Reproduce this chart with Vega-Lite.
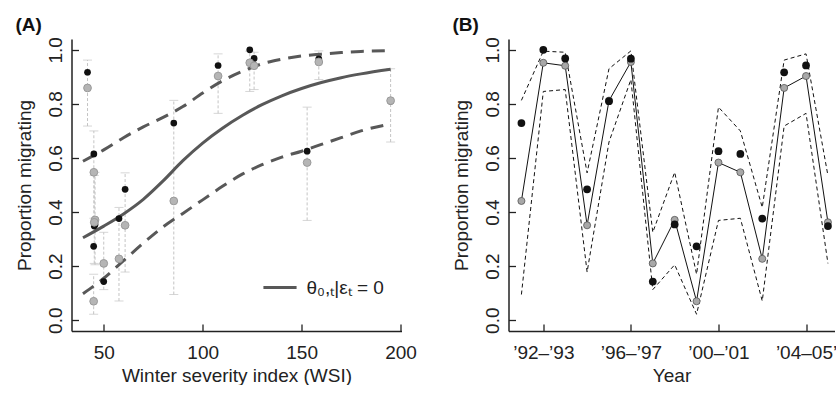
{
  "$schema": "https://vega.github.io/schema/vega-lite/v6.json",
  "padding": {"left": 14.5, "top": 15, "right": 0, "bottom": 0},
  "background": "white",
  "resolve": {"scale": {"color": "independent"}, "legend": {"color": "independent"}},
  "config": {
    "view": {"stroke": null},
    "font": "Liberation Sans",
    "axis": {
      "grid": false,
      "domainColor": "#222222",
      "domainWidth": 1.5,
      "tickColor": "#222222",
      "tickWidth": 1.3,
      "tickSize": -7,
      "labelPadding": 17,
      "labelFont": "Liberation Sans",
      "labelFontSize": 19,
      "labelColor": "#222222",
      "labelFlush": false,
      "labelOverlap": false,
      "titleFont": "Liberation Sans",
      "titleFontSize": 19,
      "titleFontWeight": "normal",
      "titleColor": "#222222"
    },
    "axisY": {"labelAngle": -90, "labelAlign": "center", "labelBaseline": "alphabetic", "titlePadding": 12, "labelPadding": 17},
    "axisX": {"labelBaseline": "top", "titlePadding": 4, "labelPadding": 19},
    "title": {"font": "Liberation Sans", "fontSize": 19, "fontWeight": "bold", "anchor": "start", "frame": "bounds", "color": "#111111", "offset": 2}
  },
  "datasets": {
    "years": [
      {"t": 0, "wsi": 85.4, "obs": 0.729, "est": 0.441, "lo": 0.095, "hi": 0.813},
      {"t": 1, "wsi": 123.8, "obs": 1.0, "est": 0.952, "lo": 0.846, "hi": 0.995},
      {"t": 2, "wsi": 126.0, "obs": 0.968, "est": 0.941, "lo": 0.853, "hi": 0.991},
      {"t": 3, "wsi": 60.8, "obs": 0.484, "est": 0.351, "lo": 0.178, "hi": 0.545},
      {"t": 4, "wsi": 195.0, "obs": 0.81, "est": 0.812, "lo": 0.659, "hi": 0.93},
      {"t": 5, "wsi": 158.7, "obs": 0.967, "est": 0.955, "lo": 0.89, "hi": 0.996},
      {"t": 6, "wsi": 50.0, "obs": 0.143, "est": 0.21, "lo": 0.113, "hi": 0.325},
      {"t": 7, "wsi": 45.6, "obs": 0.354, "est": 0.371, "lo": 0.205, "hi": 0.547},
      {"t": 8, "wsi": 44.9, "obs": 0.273, "est": 0.07, "lo": 0.022, "hi": 0.17},
      {"t": 9, "wsi": 152.8, "obs": 0.625, "est": 0.583, "lo": 0.369, "hi": 0.788},
      {"t": 10, "wsi": 45.0, "obs": 0.615, "est": 0.547, "lo": 0.377, "hi": 0.7},
      {"t": 11, "wsi": 57.7, "obs": 0.376, "est": 0.227, "lo": 0.071, "hi": 0.417},
      {"t": 12, "wsi": 41.8, "obs": 0.917, "est": 0.859, "lo": 0.718, "hi": 0.962},
      {"t": 13, "wsi": 107.8, "obs": 0.942, "est": 0.903, "lo": 0.765, "hi": 0.985},
      {"t": 14, "wsi": 45.2, "obs": 0.348, "est": 0.362, "lo": 0.21, "hi": 0.535}
    ],
    "curve": [
      {"wsi": 39.5, "fit": 0.305, "lo": 0.098, "hi": 0.588},
      {"wsi": 50, "fit": 0.348, "lo": 0.155, "hi": 0.63},
      {"wsi": 60, "fit": 0.393, "lo": 0.22, "hi": 0.675},
      {"wsi": 70, "fit": 0.447, "lo": 0.285, "hi": 0.715},
      {"wsi": 80, "fit": 0.515, "lo": 0.345, "hi": 0.75},
      {"wsi": 90, "fit": 0.59, "lo": 0.395, "hi": 0.79},
      {"wsi": 100, "fit": 0.655, "lo": 0.445, "hi": 0.84},
      {"wsi": 110, "fit": 0.71, "lo": 0.495, "hi": 0.885},
      {"wsi": 120, "fit": 0.757, "lo": 0.54, "hi": 0.92},
      {"wsi": 130, "fit": 0.797, "lo": 0.575, "hi": 0.948},
      {"wsi": 140, "fit": 0.83, "lo": 0.603, "hi": 0.965},
      {"wsi": 150, "fit": 0.857, "lo": 0.625, "hi": 0.977},
      {"wsi": 160, "fit": 0.879, "lo": 0.65, "hi": 0.984},
      {"wsi": 170, "fit": 0.897, "lo": 0.675, "hi": 0.99},
      {"wsi": 180, "fit": 0.911, "lo": 0.7, "hi": 0.994},
      {"wsi": 195, "fit": 0.928, "lo": 0.726, "hi": 0.997}
    ]
  },
  "spacing": 35,
  "hconcat": [
    {
      "title": {"text": "(A)"},
      "width": 330,
      "height": 292,
      "layer": [
        {
          "data": {"name": "years"},
          "mark": {"type": "rule", "color": "#c4c4c4", "strokeWidth": 1, "strokeDash": [3, 2]},
          "encoding": {
            "x": {"field": "wsi", "type": "quantitative", "scale": {"domain": [33.7, 200.5], "nice": false, "zero": false}, "axis": {"values": [50, 100, 150, 200], "title": "Winter severity index (WSI)"}},
            "y": {"field": "lo", "type": "quantitative", "scale": {"domain": [-0.04, 1.04], "nice": false, "zero": false}, "axis": {"values": [0, 0.2, 0.4, 0.6, 0.8, 1.0], "format": ".1f", "title": "Proportion migrating"}},
            "y2": {"field": "hi"}
          }
        },
        {
          "data": {"name": "years"},
          "mark": {"type": "tick", "orient": "horizontal", "color": "#c4c4c4", "size": 9, "thickness": 1},
          "encoding": {
            "x": {"field": "wsi", "type": "quantitative"},
            "y": {"field": "lo", "type": "quantitative"}
          }
        },
        {
          "data": {"name": "years"},
          "mark": {"type": "tick", "orient": "horizontal", "color": "#c4c4c4", "size": 9, "thickness": 1},
          "encoding": {
            "x": {"field": "wsi", "type": "quantitative"},
            "y": {"field": "hi", "type": "quantitative"}
          }
        },
        {
          "data": {"name": "curve"},
          "mark": {"type": "line", "strokeWidth": 3, "strokeDash": [13, 8], "color": "#585858", "interpolate": "monotone"},
          "encoding": {
            "x": {"field": "wsi", "type": "quantitative"},
            "y": {"field": "lo", "type": "quantitative"}
          }
        },
        {
          "data": {"name": "curve"},
          "mark": {"type": "line", "strokeWidth": 3, "strokeDash": [13, 8], "color": "#585858", "interpolate": "monotone"},
          "encoding": {
            "x": {"field": "wsi", "type": "quantitative"},
            "y": {"field": "hi", "type": "quantitative"}
          }
        },
        {
          "data": {"name": "curve"},
          "mark": {"type": "line", "strokeWidth": 3, "interpolate": "monotone"},
          "encoding": {
            "x": {"field": "wsi", "type": "quantitative"},
            "y": {"field": "fit", "type": "quantitative"},
            "color": {
              "datum": "θ₀,ₜ|εₜ = 0",
              "type": "nominal",
              "scale": {"range": ["#585858"]},
              "legend": {
                "title": null,
                "orient": "none",
                "legendX": 190,
                "legendY": 230,
                "symbolType": "stroke",
                "symbolStrokeWidth": 3,
                "symbolSize": 1100,
                "labelFont": "Liberation Sans",
                "labelFontSize": 19,
                "labelColor": "#222222",
                "labelOffset": 8,
                "padding": 0
              }
            }
          }
        },
        {
          "data": {"name": "years"},
          "mark": {"type": "point", "shape": "circle", "filled": true, "size": 45, "color": "#111111", "opacity": 1},
          "encoding": {
            "x": {"field": "wsi", "type": "quantitative"},
            "y": {"field": "obs", "type": "quantitative"}
          }
        },
        {
          "data": {"name": "years"},
          "mark": {"type": "point", "shape": "circle", "filled": true, "size": 60, "color": "#b5b5b5", "stroke": "#9a9a9a", "strokeWidth": 1, "opacity": 1},
          "encoding": {
            "x": {"field": "wsi", "type": "quantitative"},
            "y": {"field": "est", "type": "quantitative"}
          }
        }
      ]
    },
    {
      "title": {"text": "(B)"},
      "width": 326,
      "height": 292,
      "data": {"name": "years"},
      "layer": [
        {
          "mark": {"type": "line", "color": "#111111", "strokeWidth": 1, "strokeDash": [4, 3]},
          "encoding": {
            "x": {"field": "t", "type": "quantitative", "scale": {"domain": [-0.59, 14.3], "nice": false, "zero": false}, "axis": {"values": [1, 5, 9, 13], "title": "Year", "labelExpr": "datum.value == 1 ? '’92–’93' : datum.value == 5 ? '’96–’97' : datum.value == 9 ? '’00–’01' : '’04–05’'"}},
            "y": {"field": "lo", "type": "quantitative", "scale": {"domain": [-0.04, 1.04], "nice": false, "zero": false}, "axis": {"values": [0, 0.2, 0.4, 0.6, 0.8, 1.0], "format": ".1f", "title": "Proportion migrating"}}
          }
        },
        {
          "mark": {"type": "line", "color": "#111111", "strokeWidth": 1, "strokeDash": [4, 3]},
          "encoding": {
            "x": {"field": "t", "type": "quantitative"},
            "y": {"field": "hi", "type": "quantitative"}
          }
        },
        {
          "mark": {"type": "line", "color": "#111111", "strokeWidth": 1},
          "encoding": {
            "x": {"field": "t", "type": "quantitative"},
            "y": {"field": "est", "type": "quantitative"}
          }
        },
        {
          "mark": {"type": "point", "shape": "circle", "filled": true, "size": 50, "color": "#a8a8a8", "stroke": "#555555", "strokeWidth": 0.8, "opacity": 1},
          "encoding": {
            "x": {"field": "t", "type": "quantitative"},
            "y": {"field": "est", "type": "quantitative"}
          }
        },
        {
          "mark": {"type": "point", "shape": "circle", "filled": true, "size": 60, "color": "#111111", "opacity": 1},
          "encoding": {
            "x": {"field": "t", "type": "quantitative"},
            "y": {"field": "obs", "type": "quantitative"}
          }
        }
      ]
    }
  ]
}
